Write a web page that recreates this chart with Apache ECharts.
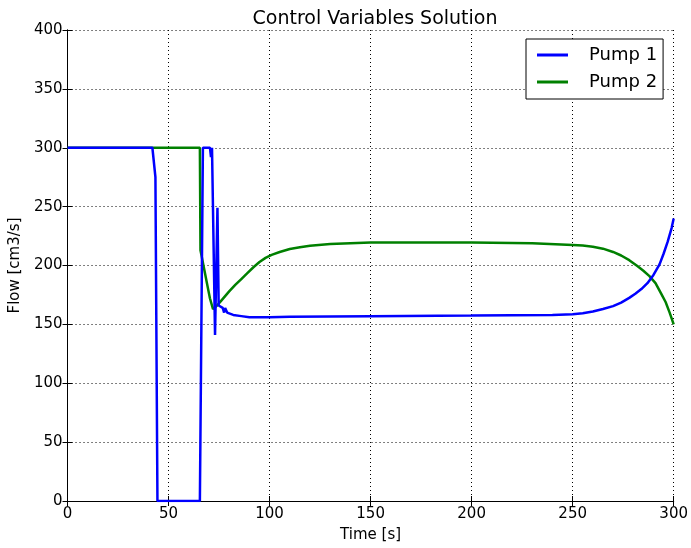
<!DOCTYPE html>
<html>
<head>
<meta charset="utf-8">
<script src="https://cdn.jsdelivr.net/npm/echarts@6/dist/echarts.min.js"></script>
<style>
html,body{margin:0;padding:0;background:#fff;}
#chart{width:691px;height:548px;}
</style>
</head>
<body>
<div id="chart"></div>
<script>
// ---- Data ----
var chartTitle = 'Control Variables Solution';
var xLabel = 'Time [s]';
var yLabel = 'Flow [cm3/s]';
var seriesNames = ['Pump 1', 'Pump 2'];

var pump1Time = [0, 42, 43.5, 44.5, 65.5, 67, 70.5, 71, 71.5, 72, 73, 74.2, 74.8, 75.5, 76.8, 77.5, 78, 79, 82, 86, 90, 100, 110, 150, 200, 240, 250, 255, 260, 265, 270, 274, 278, 281, 284, 287, 290, 293, 295, 297, 299, 300];
var pump1Flow = [300, 300, 275, 0, 0, 300, 300, 292, 300, 300, 141, 249, 166, 165.5, 164, 160, 164, 160, 158, 157, 156, 156, 156.5, 157, 157.5, 158, 158.6, 159.5, 161, 163, 165.5, 168.5, 172.5, 176, 180, 185, 192, 201, 210, 220, 232, 240];

var pump2Time = [0, 65.5, 65.8, 67.5, 69, 70.5, 72, 74, 76, 78, 80, 83, 86, 89, 92, 95, 98, 101, 105, 110, 115, 120, 130, 140, 150, 200, 230, 250, 255, 260, 265, 270, 274, 278, 282, 285, 288, 291, 294, 296, 298, 300];
var pump2Flow = [300, 300, 213, 198, 185, 172, 163, 166, 170, 174, 178, 183.5, 188.5, 193.5, 198.5, 203, 206.5, 209, 211.5, 214, 215.5, 216.8, 218.2, 219, 219.5, 219.5, 219, 217.5, 217, 216, 214.3, 211.5, 208.5, 204.5, 199.5, 195.5, 191, 185, 175.5, 169, 160, 150];

var xTicks = {min: 0, max: 300, interval: 50};
var yTicks = {min: 0, max: 400, interval: 50};

function pairs(xs, ys) {
  var out = [];
  for (var i = 0; i < xs.length; i++) out.push([xs[i], ys[i]]);
  return out;
}

var FONT = 'DejaVu Sans';
var chart = echarts.init(document.getElementById('chart'), null, {renderer: 'canvas'});

var baseAxis = {
  type: 'value',
  axisLine: {show: true, lineStyle: {color: '#000', width: 1}},
  axisTick: {show: true, inside: true, length: 5, lineStyle: {color: '#000', width: 1}},
  axisLabel: {color: '#000', fontFamily: FONT, fontSize: 15},
  splitLine: {show: true, lineStyle: {color: '#000', width: 1, type: [1, 3]}}
};

function axis(extra) {
  var a = JSON.parse(JSON.stringify(baseAxis));
  for (var k in extra) a[k] = extra[k];
  return a;
}

chart.setOption({
  animation: false,
  backgroundColor: '#fff',
  title: {
    text: chartTitle,
    left: 370, textAlign: 'center', top: 5,
    textStyle: {fontFamily: FONT, fontSize: 19, fontWeight: 'normal', color: '#000'}
  },
  grid: {left: 66, right: 17, top: 30, bottom: 43, containLabel: false},
  xAxis: [
    axis({min: xTicks.min, max: xTicks.max, interval: xTicks.interval, position: 'bottom',
      name: xLabel, nameLocation: 'middle', nameGap: 27,
      nameTextStyle: {fontFamily: FONT, fontSize: 15, color: '#000'},
      axisLabel: {color: '#000', fontFamily: FONT, fontSize: 15, margin: 6}}),
    axis({min: xTicks.min, max: xTicks.max, interval: xTicks.interval, position: 'top',
      axisLabel: {show: false}, splitLine: {show: false}})
  ],
  yAxis: [
    axis({min: yTicks.min, max: yTicks.max, interval: yTicks.interval, position: 'left',
      name: yLabel, nameLocation: 'middle', nameGap: 40,
      nameTextStyle: {fontFamily: FONT, fontSize: 15, color: '#000'},
      axisLabel: {color: '#000', fontFamily: FONT, fontSize: 15, margin: 5}}),
    axis({min: yTicks.min, max: yTicks.max, interval: yTicks.interval, position: 'right',
      axisLabel: {show: false}, splitLine: {show: false}})
  ],
  legend: {
    orient: 'vertical',
    left: 526, top: 39,
    padding: [6, 6, 7, 11],
    itemGap: 7,
    itemWidth: 31, itemHeight: 3,
    icon: 'rect',
    backgroundColor: '#fff',
    borderColor: '#000', borderWidth: 1, borderRadius: 0,
    textStyle: {fontFamily: FONT, fontSize: 18, color: '#000', lineHeight: 20, padding: [0, 0, 0, 16]},
    data: seriesNames
  },
  series: [
    {name: seriesNames[0], type: 'line', data: pairs(pump1Time, pump1Flow), showSymbol: false,
      xAxisIndex: 0, yAxisIndex: 0, lineStyle: {color: '#0000ff', width: 2.5}, itemStyle: {color: '#0000ff'}, z: 3},
    {name: seriesNames[1], type: 'line', data: pairs(pump2Time, pump2Flow), showSymbol: false,
      xAxisIndex: 0, yAxisIndex: 0, lineStyle: {color: '#008000', width: 2.5}, itemStyle: {color: '#008000'}, z: 2}
  ]
});
</script>
</body>
</html>
